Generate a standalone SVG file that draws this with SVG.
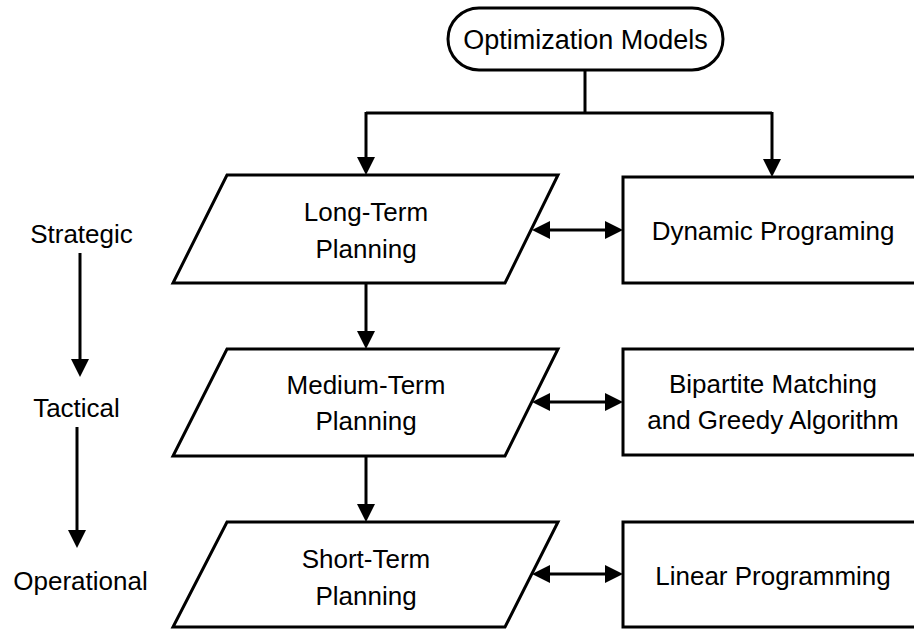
<svg xmlns="http://www.w3.org/2000/svg" width="914" height="629" viewBox="0 0 914 629">
<style>
.shape{fill:#fff;stroke:#000;stroke-width:3;stroke-linejoin:miter}
.t{font-family:"Liberation Sans",Arial,sans-serif;font-size:26px;fill:#000;text-anchor:middle}
.c{fill:none;stroke:#000;stroke-width:3}
.a{marker-end:url(#ah)}
.d{marker-start:url(#ah);marker-end:url(#ah)}
</style>
<defs>
<marker id="ah" viewBox="0 0 18 18" markerWidth="18" markerHeight="18" markerUnits="userSpaceOnUse" refX="8" refY="9" orient="auto-start-reverse">
<path d="M0,0 L18,9 L0,18 z" fill="#000"/>
</marker>
</defs>
<rect width="914" height="629" fill="#fff"/>
<g id="connectors">
<path class="c" d="M585 70 V113"/>
<path class="c" d="M366 113 H772"/>
<path class="c a" d="M366 112 V165"/>
<path class="c a" d="M772 112 V167"/>
<path class="c a" d="M366 283 V339"/>
<path class="c a" d="M366 456 V512"/>
<path class="c d" d="M542 230 H613"/>
<path class="c d" d="M542 402 H613"/>
<path class="c d" d="M542 574 H613"/>
<path class="c a" d="M80 253 V367"/>
<path class="c a" d="M77 427 V538"/>
</g>
<g id="optimization-models">
<rect class="shape" x="448" y="8" width="275" height="62" rx="31" ry="31"/>
<text class="t" x="585.5" y="49" style="font-size:27px">Optimization Models</text>
</g>
<g id="long-term">
<polygon class="shape" points="227,175 558,175 505,283 173,283"/>
<text class="t" x="366" y="221">Long-Term</text>
<text class="t" x="366" y="258">Planning</text>
</g>
<g id="medium-term">
<polygon class="shape" points="227,349 558,349 505,456 173,456"/>
<text class="t" x="366" y="394">Medium-Term</text>
<text class="t" x="366" y="430">Planning</text>
</g>
<g id="short-term">
<polygon class="shape" points="227,522 558,522 505,627 173,627"/>
<text class="t" x="366" y="568">Short-Term</text>
<text class="t" x="366" y="605">Planning</text>
</g>
<g id="dynamic-programing">
<rect class="shape" x="623" y="177" width="300" height="106"/>
<text class="t" x="773" y="240">Dynamic Programing</text>
</g>
<g id="bipartite">
<rect class="shape" x="623" y="349" width="300" height="106"/>
<text class="t" x="773" y="393">Bipartite Matching</text>
<text class="t" x="773" y="429">and Greedy Algorithm</text>
</g>
<g id="linear-programming">
<rect class="shape" x="623" y="522" width="300" height="105"/>
<text class="t" x="773" y="585">Linear Programming</text>
</g>
<g id="levels">
<text class="t" x="81.5" y="243">Strategic</text>
<text class="t" x="76.5" y="417">Tactical</text>
<text class="t" x="80.5" y="590">Operational</text>
</g>
</svg>
